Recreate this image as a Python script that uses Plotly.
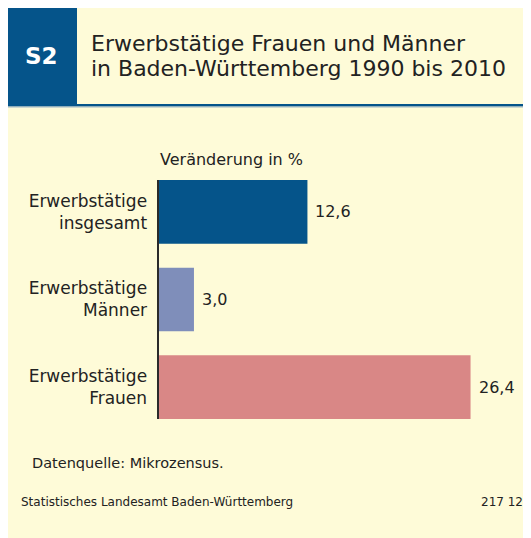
import plotly.graph_objects as go

# ---- data ----
categories = ["Erwerbstätige<br>insgesamt", "Erwerbstätige<br>Männer", "Erwerbstätige<br>Frauen"]
values = [12.6, 3.0, 26.4]
bar_colors = ["#05548A", "#7F8EBA", "#D98786"]
title_line1 = "Erwerbstätige Frauen und Männer"
title_line2 = "in Baden-Württemberg 1990 bis 2010"
badge = "S2"
axis_title = "Veränderung in %"
source_note = "Datenquelle: Mikrozensus."
publisher = "Statistisches Landesamt Baden-Württemberg"
code = "217 12"

OFF = 8  # page body margin
W, H = 523, 530
FONT = "DejaVu Sans"
TXT = "#222222"
CREAM = "#FEFBD8"
BLUE = "#05548A"


def px(x):
    return (x - OFF) / W


def py(y):
    return 1 - (y - OFF) / H


fig = go.Figure()
fig.add_trace(go.Bar(
    x=values,
    y=list(range(len(categories))),
    orientation="h",
    marker=dict(color=bar_colors, line=dict(width=0)),
    width=0.727,
    hoverinfo="skip",
))

# value labels
for i, v in enumerate(values):
    fig.add_annotation(
        x=v, y=i, xref="x", yref="y",
        text=f"{v:.1f}".replace(".", ","),
        showarrow=False, xanchor="left", yanchor="middle", xshift=6,
        font=dict(family=FONT, size=16, color=TXT),
    )

shapes = [
    # blue badge box
    dict(type="rect", xref="paper", yref="paper", x0=px(OFF), x1=px(77), y0=py(106), y1=1.0,
         fillcolor=BLUE, line=dict(width=0), layer="below"),
    # header underline
    dict(type="rect", xref="paper", yref="paper", x0=0, x1=1.0, y0=py(106.5), y1=py(104),
         fillcolor=BLUE, line=dict(width=0), layer="below"),
    dict(type="rect", xref="paper", yref="paper", x0=0, x1=1.0, y0=py(107.5), y1=py(106.5),
         fillcolor="#9DB6C6", line=dict(width=0), layer="below"),
]

annotations = [
    dict(x=px(41), y=py(56), xref="paper", yref="paper", text=f"<b>{badge}</b>",
         showarrow=False, xanchor="center", yanchor="middle",
         font=dict(family=FONT, size=23, color="white")),
    dict(x=px(89), y=py(44), xref="paper", yref="paper", text=title_line1,
         showarrow=False, xanchor="left", yanchor="middle",
         font=dict(family=FONT, size=22, color=TXT)),
    dict(x=px(89), y=py(68.5), xref="paper", yref="paper", text=title_line2,
         showarrow=False, xanchor="left", yanchor="middle",
         font=dict(family=FONT, size=22, color=TXT)),
    dict(x=px(158), y=py(160), xref="paper", yref="paper", text=axis_title,
         showarrow=False, xanchor="left", yanchor="middle",
         font=dict(family=FONT, size=16, color=TXT)),
    dict(x=px(30), y=py(463), xref="paper", yref="paper", text=source_note,
         showarrow=False, xanchor="left", yanchor="middle",
         font=dict(family=FONT, size=14.5, color=TXT)),
    dict(x=px(19), y=py(502), xref="paper", yref="paper", text=publisher,
         showarrow=False, xanchor="left", yanchor="middle",
         font=dict(family=FONT, size=12, color=TXT)),
    dict(x=px(525), y=py(502), xref="paper", yref="paper", text=code,
         showarrow=False, xanchor="right", yanchor="middle",
         font=dict(family=FONT, size=12, color=TXT)),
]
for a in annotations:
    fig.add_annotation(**a)

x0_px = 158.5
px_per_unit = 11.82
fig.update_layout(
    width=W, height=H,
    margin=dict(l=0, r=0, t=0, b=0),
    paper_bgcolor=CREAM,
    plot_bgcolor="rgba(0,0,0,0)",
    showlegend=False,
    shapes=shapes,
    xaxis=dict(domain=[px(x0_px), 1.0], range=[0, (W + OFF - x0_px) / px_per_unit],
               visible=False, fixedrange=True),
    yaxis=dict(domain=[py(419), py(180)], range=[2.3635, -0.3635],
               tickmode="array", tickvals=list(range(len(categories))), ticktext=categories,
               showline=True, linecolor="#2a2a2a", linewidth=2, showgrid=False,
               zeroline=False, ticks="", ticklabelstandoff=6,
               tickfont=dict(family=FONT, size=17, color=TXT), fixedrange=True),
)

fig.write_html("out.html", config={"displayModeBar": False})
